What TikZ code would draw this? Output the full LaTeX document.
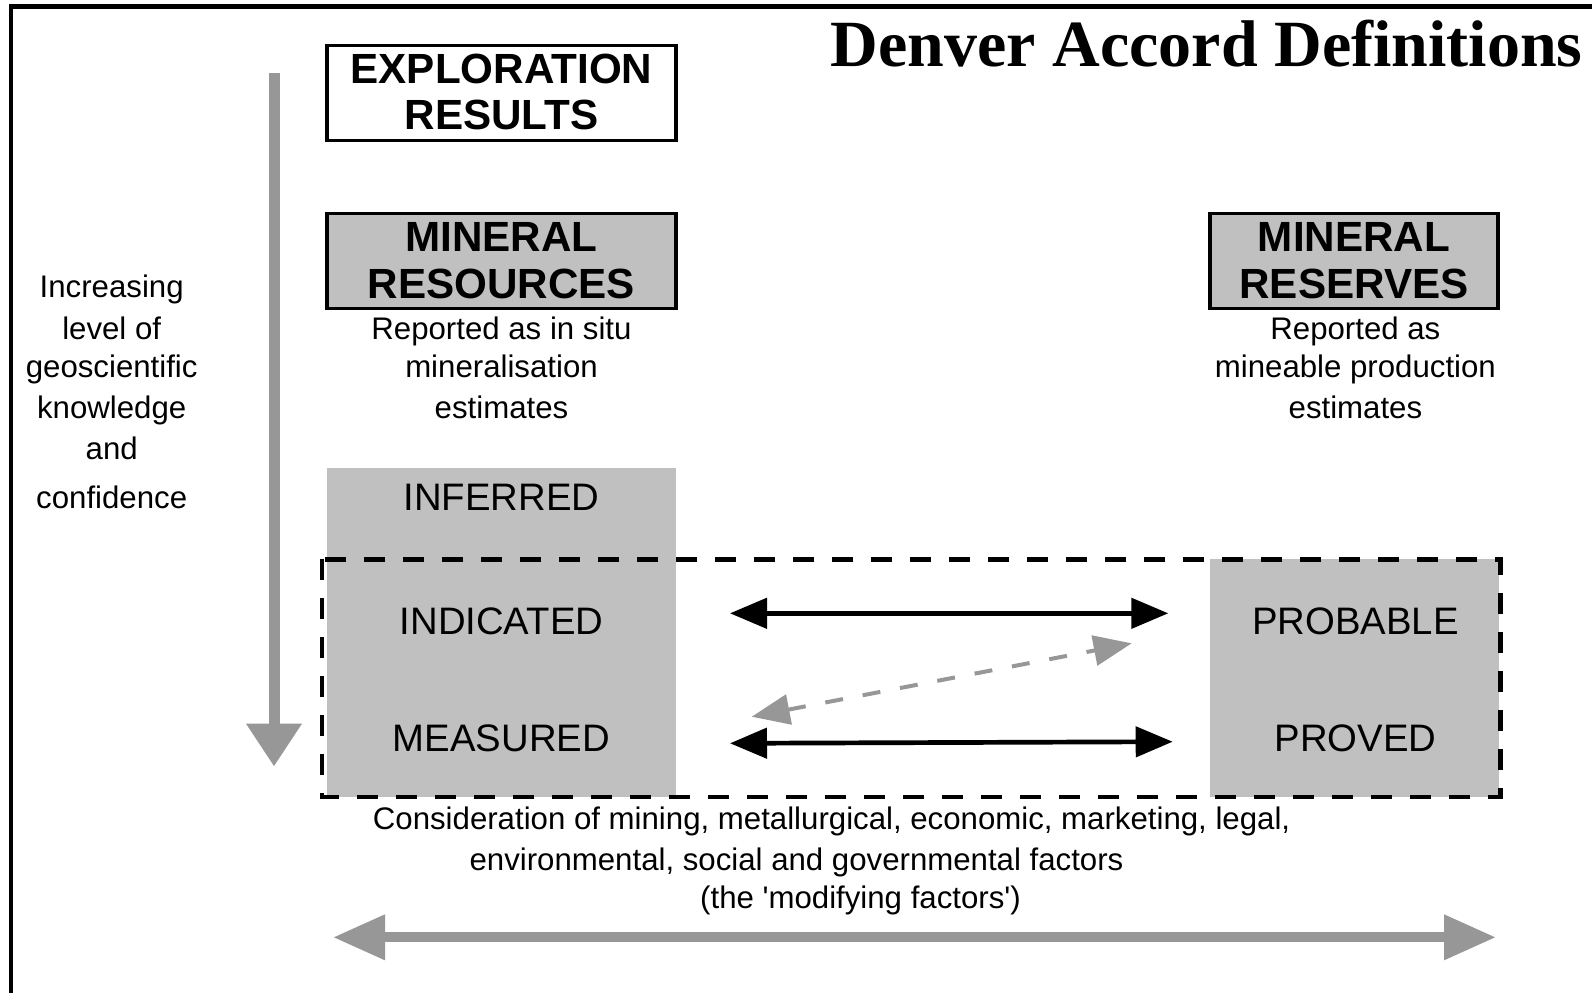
\documentclass[tikz,border=0pt]{standalone}
\usepackage{fontspec}
\setmainfont{Liberation Sans}
\newfontfamily\titlefont{Liberation Serif}
\newfontfamily\quotefont{Liberation Sans}
\usetikzlibrary{arrows.meta}
\definecolor{boxgrey}{HTML}{C0C0C0}
\definecolor{arrgrey}{HTML}{979797}
\tikzset{
  bigtxt/.style={font=\fontsize{21.1}{24}\selectfont\bfseries, inner sep=0pt, anchor=base},
  gradetxt/.style={font=\fontsize{19.15}{22}\selectfont, inner sep=0pt, anchor=base},
  smalltxt/.style={font=\fontsize{15.6}{19}\selectfont, inner sep=0pt, anchor=base},
  plainbox/.style={draw=black, line width=1.8pt, inner sep=0pt},
  headbox/.style={draw=black, fill=boxgrey, line width=1.8pt, inner sep=0pt},
  greyblock/.style={fill=boxgrey, draw=none, inner sep=0pt},
  blackarrow/.style={line width=2.35pt, {Triangle[length=18.5pt,width=15pt]}-{Triangle[length=18.5pt,width=15pt]}},
  dasharrow/.style={draw=arrgrey, line width=2pt, dash pattern=on 9pt off 10pt, {Triangle[length=19pt,width=15pt]}-{Triangle[length=19pt,width=15pt]}},
}
\begin{document}
\begin{tikzpicture}[x=0.5pt,y=-0.5pt]
\useasboundingbox (0,0) rectangle (1592,993);
% frame
\draw[line width=2.1pt] (11,993) -- (11,6.5) -- (1592,6.5);
% title
\node[font=\titlefont\fontsize{33}{36}\selectfont\bfseries, inner sep=0pt, anchor=base west] (title) at (830.5,66) {Denver Accord Definitions};

% vertical arrow
\coordinate (vtop) at (274,73);
\coordinate (vbot) at (274,766.5);
\draw[arrgrey, line width=5.5pt, -{Triangle[length=21.5pt,width=26.5pt]}] (vtop) -- (vbot);

% left text
\node[smalltxt] (l1) at (111.7,297.3) {Increasing};
\node[smalltxt] (l2) at (111.7,339) {level of};
\node[smalltxt] (l3) at (111.7,377.5) {geoscientific};
\node[smalltxt] (l4) at (111.7,418) {knowledge};
\node[smalltxt] (l5) at (111.7,459.8) {and};
\node[smalltxt] (l6) at (111.7,508.5) {confidence};

% exploration results
\node[plainbox, minimum width=174.5pt, minimum height=47.4pt] (expl) at (501.5,93) {};
\node[bigtxt] (expl1) at (501.5,83.1) {EXPLORATION};
\node[bigtxt] (expl2) at (501.5,129.8) {RESULTS};

% mineral resources / reserves headers
\node[headbox, minimum width=174.5pt, minimum height=47.5pt] (resbox) at (501.5,261) {};
\node[bigtxt] (res1) at (501.5,251.7) {MINERAL};
\node[bigtxt] (res2) at (501.5,298.4) {RESOURCES};
\node[headbox, minimum width=144pt, minimum height=47.5pt] (rsvbox) at (1354,261) {};
\node[bigtxt] (rsv1) at (1354,251.7) {MINERAL};
\node[bigtxt] (rsv2) at (1354,298.4) {RESERVES};

\node[smalltxt] (rr1) at (501.5,339) {Reported as in situ};
\node[smalltxt] (rr2) at (501.5,377.5) {mineralisation};
\node[smalltxt] (rr3) at (501.5,418) {estimates};
\node[smalltxt] (rv1) at (1355.4,339) {Reported as};
\node[smalltxt] (rv2) at (1355.4,377.5) {mineable production};
\node[smalltxt] (rv3) at (1355.4,418) {estimates};

% grey blocks
\node[greyblock, minimum width=174.5pt, minimum height=164.5pt] (rescol) at (501.5,632.5) {};
\node[greyblock, minimum width=144.3pt, minimum height=118.8pt] (rsvcol) at (1354.3,678.2) {};

\node[gradetxt] (inf) at (501.5,510.2) {INFERRED};
\node[gradetxt] (ind) at (501.5,634) {INDICATED};
\node[gradetxt] (mea) at (501.5,751.7) {MEASURED};
\node[gradetxt] (prb) at (1355.4,634) {PROBABLE};
\node[gradetxt] (prv) at (1355.4,751.7) {PROVED};

% dashed rectangle
\draw[line width=2.25pt, dash pattern=on 10.5pt off 9pt] (322,559.4) rectangle (1500.6,797);

% black arrows
\coordinate (a1l) at (730,613.3);
\coordinate (a1r) at (1168.3,613.3);
\coordinate (a2l) at (730,743.3);
\coordinate (a2r) at (1172.7,741.7);
\draw[blackarrow] (a1l) -- (a1r);
\draw[blackarrow] (a2l) -- (a2r);
% grey dashed arrow
\coordinate (dl) at (751.7,716.7);
\coordinate (dr) at (1131.7,643.3);
\draw[dasharrow] (dl) -- (dr);

% bottom text
\node[smalltxt] (b1) at (831.6,829) {Consideration of mining, metallurgical, economic, marketing, legal,};
\node[smalltxt] (b2) at (796.5,870) {environmental, social and governmental factors};
\node[smalltxt] (b3) at (860.5,908.5) {\quotefont(the 'modifying factors')};

% bottom grey arrow
\coordinate (hl) at (333,937.3);
\coordinate (hr) at (1496,937.3);
\draw[arrgrey, line width=5pt, {Triangle[length=26pt,width=21.5pt]}-{Triangle[length=26pt,width=21.5pt]}] (hl) -- (hr);
\end{tikzpicture}
\end{document}
